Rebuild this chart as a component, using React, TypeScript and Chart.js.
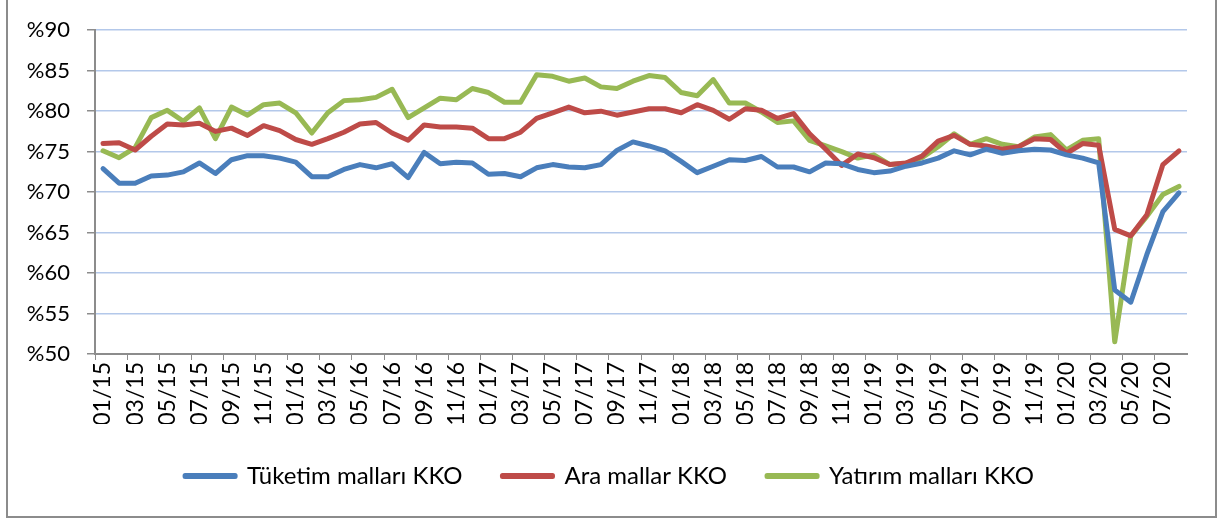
import React, { useEffect, useRef } from "react";
import { Chart, registerables } from "chart.js";

Chart.register(...registerables);

const categories: string[] = [
  "01/15","02/15","03/15","04/15","05/15","06/15","07/15","08/15","09/15","10/15","11/15","12/15",
  "01/16","02/16","03/16","04/16","05/16","06/16","07/16","08/16","09/16","10/16","11/16","12/16",
  "01/17","02/17","03/17","04/17","05/17","06/17","07/17","08/17","09/17","10/17","11/17","12/17",
  "01/18","02/18","03/18","04/18","05/18","06/18","07/18","08/18","09/18","10/18","11/18","12/18",
  "01/19","02/19","03/19","04/19","05/19","06/19","07/19","08/19","09/19","10/19","11/19","12/19",
  "01/20","02/20","03/20","04/20","05/20","06/20","07/20","08/20",
];

const tuketim: number[] = [
  72.9, 71.1, 71.1, 72.0, 72.1, 72.5, 73.6, 72.3, 74.0, 74.5, 74.5, 74.2,
  73.7, 71.9, 71.9, 72.8, 73.4, 73.0, 73.5, 71.8, 74.9, 73.5, 73.7, 73.6,
  72.2, 72.3, 71.9, 73.0, 73.4, 73.1, 73.0, 73.4, 75.15, 76.2, 75.7, 75.1,
  73.8, 72.4, 73.2, 74.0, 73.9, 74.4, 73.1, 73.1, 72.5, 73.6, 73.5, 72.8,
  72.4, 72.6, 73.2, 73.6, 74.2, 75.1, 74.6, 75.3, 74.8, 75.1, 75.3, 75.2,
  74.6, 74.2, 73.6, 57.9, 56.4, 62.3, 67.6, 69.9,
];

const araMallar: number[] = [
  76.0, 76.1, 75.2, 76.9, 78.4, 78.3, 78.5, 77.5, 77.9, 77.0, 78.2, 77.6,
  76.5, 75.9, 76.6, 77.4, 78.4, 78.6, 77.3, 76.4, 78.3, 78.05, 78.05, 77.9,
  76.6, 76.6, 77.4, 79.1, 79.8, 80.5, 79.8, 80.0, 79.5, 79.9, 80.3, 80.3,
  79.8, 80.8, 80.1, 79.0, 80.3, 80.1, 79.1, 79.7, 77.2, 75.3, 73.3, 74.7,
  74.25, 73.4, 73.6, 74.45, 76.3, 77.0, 75.9, 75.7, 75.3, 75.6, 76.6, 76.5,
  74.8, 76.0, 75.8, 65.4, 64.6, 67.2, 73.4, 75.1,
];

const yatirim: number[] = [
  75.1, 74.25, 75.5, 79.2, 80.1, 78.75, 80.4, 76.6, 80.5, 79.5, 80.8, 81.0,
  79.8, 77.3, 79.8, 81.3, 81.4, 81.7, 82.7, 79.2, 80.4, 81.6, 81.4, 82.8,
  82.3, 81.1, 81.1, 84.5, 84.3, 83.7, 84.1, 83.0, 82.8, 83.7, 84.4, 84.15,
  82.3, 81.9, 83.9, 81.0, 81.0, 79.9, 78.6, 78.8, 76.4, 75.7, 75.0, 74.2,
  74.6, 73.4, 73.55, 74.25, 75.6, 77.2, 75.9, 76.6, 75.9, 75.6, 76.8, 77.1,
  75.2, 76.4, 76.6, 51.5, 64.6, 67.0, 69.7, 70.7,
];

const seriesNames: string[] = ["Tüketim malları KKO", "Ara mallar KKO", "Yatırım malları KKO"];
const seriesColors: string[] = ["#4a7ebb", "#be4b48", "#98b954"];

const FONT = "Lato, 'Open Sans', sans-serif";

const legendShift = {
  id: "legendShift",
  afterLayout(chart: any) {
    const l = chart.legend;
    if (l) {
      l.left += 16;
      l.right += 16;
    }
  },
};

export default function App() {
  const ref = useRef<HTMLCanvasElement | null>(null);

  useEffect(() => {
    if (!ref.current) return;
    const values = [tuketim, araMallar, yatirim];
    const chart = new Chart(ref.current, {
      type: "line",
      data: {
        labels: categories,
        datasets: values.map((v, i) => ({
          label: seriesNames[i],
          data: v,
          borderColor: seriesColors[i],
          backgroundColor: seriesColors[i],
          borderWidth: 5,
          borderJoinStyle: "round" as const,
          borderCapStyle: "round" as const,
          pointRadius: 0,
          tension: 0,
          fill: false,
        })),
      },
      plugins: [legendShift],
      options: {
        responsive: false,
        animation: false,
        layout: { padding: { left: 0, right: 30, top: 28, bottom: 21 } },
        plugins: {
          tooltip: { enabled: false },
          legend: {
            position: "bottom",
            labels: {
              boxWidth: 50,
              boxHeight: 1,
              padding: 40,
              color: "#000",
              font: { family: FONT, size: 24 },
            },
          },
        },
        scales: {
          x: {
            offset: true,
            afterFit: (s: any) => { s.height = 70; },
            grid: {
              offset: true,
              drawOnChartArea: false,
              drawTicks: true,
              tickLength: 6,
              tickColor: (ctx: any) => (ctx.index % 2 === 0 ? "#8c8c8c" : "rgba(0,0,0,0)"),
              color: "rgba(0,0,0,0)",
            },
            border: { display: true, color: "#8c8c8c", width: 2 },
            ticks: {
              autoSkip: false,
              maxRotation: 90,
              minRotation: 90,
              padding: 2,
              color: "#000",
              font: { family: FONT, size: 23 },
              callback: (_v: any, i: number) => (i % 2 === 0 ? categories[i] : ""),
            },
          },
          y: {
            min: 50,
            max: 90,
            afterFit: (s: any) => { s.width = 95; },
            grid: {
              color: "#b3c8ea",
              lineWidth: 1.5,
              drawTicks: true,
              tickLength: 8,
              tickColor: "#8c8c8c",
            },
            border: { display: true, color: "#8c8c8c", width: 2 },
            ticks: {
              stepSize: 5,
              padding: 17,
              color: "#000",
              font: { family: FONT, size: 22 },
              callback: (v: any) => "%" + v,
            },
          },
        },
      },
    });
    return () => chart.destroy();
  }, []);

  return (
    <div style={{ position: "absolute", left: 0, top: 0, width: 1217, height: 519, background: "#fff" }}>
      <div
        style={{
          position: "absolute",
          left: 6,
          top: -2,
          width: 1211,
          height: 520,
          border: "2px solid #8c8c8c",
          boxSizing: "border-box",
        }}
      />
      <canvas ref={ref} width={1217} height={519} style={{ position: "absolute", left: 0, top: 0 }} />
    </div>
  );
}
